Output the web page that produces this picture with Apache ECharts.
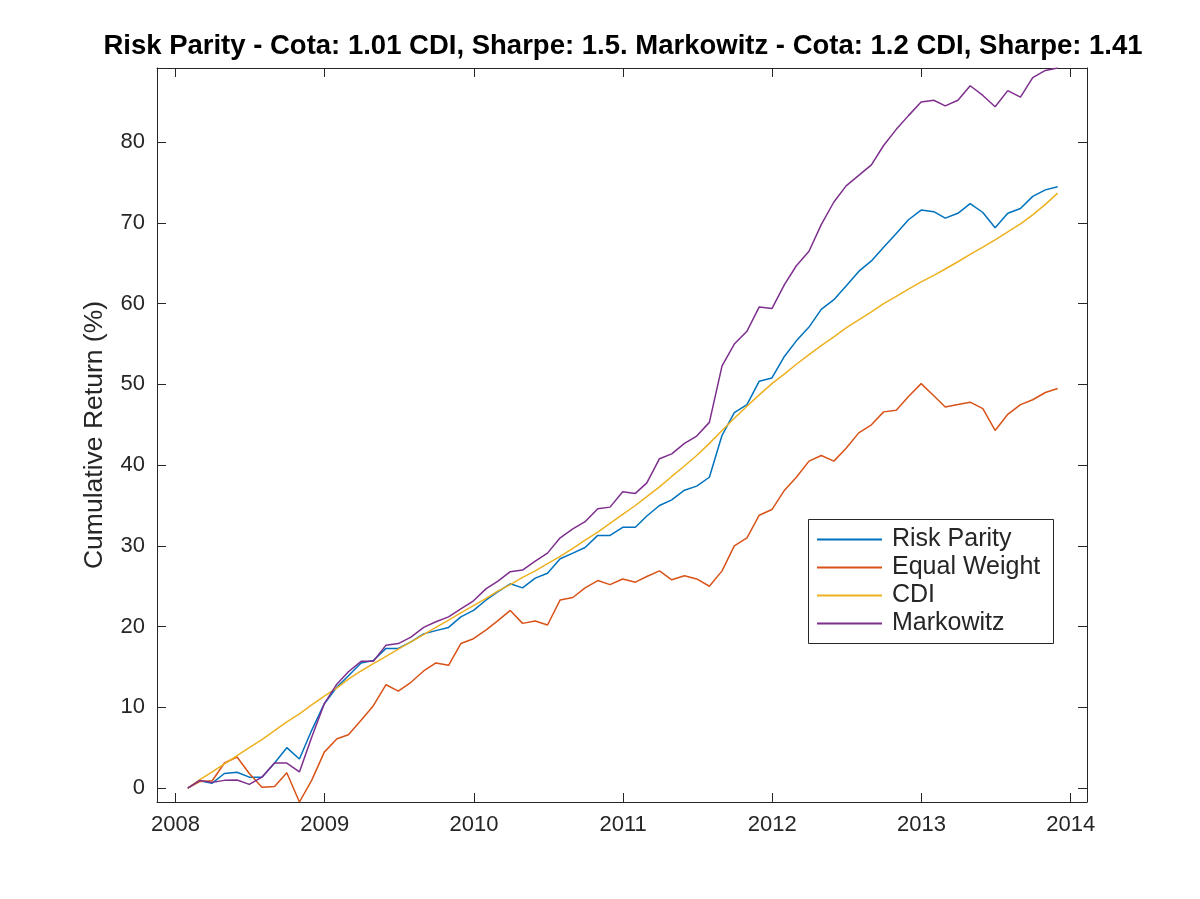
<!DOCTYPE html>
<html>
<head>
<meta charset="utf-8">
<script src="https://cdn.jsdelivr.net/npm/echarts@6/dist/echarts.min.js"></script>
<style>
html,body{margin:0;padding:0;background:#fff;}
#chart{width:1200px;height:899px;}
</style>
</head>
<body>
<div id="chart"></div>
<script>
// Monthly observations (month-end), Jan 2008 .. Nov 2013
const months = [
 '2008-01','2008-02','2008-03','2008-04','2008-05','2008-06','2008-07','2008-08','2008-09','2008-10','2008-11','2008-12',
 '2009-01','2009-02','2009-03','2009-04','2009-05','2009-06','2009-07','2009-08','2009-09','2009-10','2009-11','2009-12',
 '2010-01','2010-02','2010-03','2010-04','2010-05','2010-06','2010-07','2010-08','2010-09','2010-10','2010-11','2010-12',
 '2011-01','2011-02','2011-03','2011-04','2011-05','2011-06','2011-07','2011-08','2011-09','2011-10','2011-11','2011-12',
 '2012-01','2012-02','2012-03','2012-04','2012-05','2012-06','2012-07','2012-08','2012-09','2012-10','2012-11','2012-12',
 '2013-01','2013-02','2013-03','2013-04','2013-05','2013-06','2013-07','2013-08','2013-09','2013-10','2013-11'
];

const riskParity = [0,0.9,0.6,1.8,1.95,1.35,1.35,3.1,5.0,3.6,
 7.15,10.45,12.5,13.9,15.5,15.8,17.3,17.3,18.1,19.1,
 19.5,19.9,21.2,22.0,23.3,24.3,25.3,24.8,26.0,26.6,
 28.4,29.1,29.8,31.3,31.3,32.3,32.3,33.7,35.0,35.7,
 36.9,37.4,38.5,43.7,46.5,47.5,50.4,50.8,53.5,55.4,
 57.1,59.3,60.5,62.2,64.0,65.3,67.0,68.7,70.4,71.6,
 71.4,70.6,71.2,72.4,71.3,69.4,71.2,71.8,73.3,74.1,74.5];

const equalWeight = [0,0.8,0.9,3.1,3.85,1.8,0.1,0.2,1.9,-1.73,
 0.95,4.45,6.1,6.6,8.4,10.2,12.8,12.0,13.1,14.5,
 15.5,15.2,17.9,18.5,19.6,20.7,22.0,20.4,20.7,20.2,
 23.3,23.6,24.8,25.7,25.2,25.9,25.5,26.2,26.9,25.8,
 26.3,25.9,25.0,26.9,30.0,31.0,33.8,34.5,36.9,38.5,
 40.5,41.2,40.5,42.1,44.0,45.0,46.6,46.8,48.5,50.1,
 48.6,47.2,47.5,47.8,47.0,44.3,46.3,47.5,48.1,49.0,49.5];

const cdi = [0,1.0,2.0,3.0,4.0,5.0,6.0,7.1,8.2,9.2,
 10.3,11.4,12.4,13.5,14.5,15.4,16.3,17.2,18.1,19.0,
 19.9,20.8,21.7,22.6,23.5,24.4,25.2,26.1,26.9,27.8,
 28.7,29.7,30.7,31.7,32.8,33.9,35.0,36.1,37.3,38.6,
 39.9,41.2,42.7,44.3,45.8,47.3,48.7,50.1,51.3,52.5,
 53.7,54.8,55.9,57.0,58.0,59.0,60.0,60.9,61.8,62.7,
 63.5,64.3,65.2,66.1,67.0,67.9,68.9,69.9,71.0,72.3,73.7];

const markowitz = [0,0.95,0.7,0.95,1.0,0.45,1.35,3.1,3.1,2.0,
 6.3,10.45,12.9,14.4,15.7,15.7,17.7,17.9,18.7,19.9,
 20.6,21.2,22.2,23.2,24.7,25.6,26.8,27.0,28.1,29.1,
 31.0,32.1,33.0,34.6,34.8,36.7,36.5,37.8,40.8,41.4,
 42.7,43.6,45.3,52.3,55.0,56.6,59.6,59.4,62.4,64.7,
 66.5,69.8,72.6,74.6,75.9,77.2,79.6,81.6,83.3,85.0,
 85.2,84.5,85.2,87.0,85.8,84.4,86.4,85.6,88.0,88.9,89.2];

const seriesNames = ['Risk Parity','Equal Weight','CDI','Markowitz'];
const xTickYears = [2008,2009,2010,2011,2012,2013,2014];
const yTicks = [0,10,20,30,40,50,60,70,80];
const titleText = 'Risk Parity - Cota: 1.01 CDI, Sharpe: 1.5. Markowitz - Cota: 1.2 CDI, Sharpe: 1.41';
const yLabel = 'Cumulative Return (%)';

const colors = ['#0072BD','#D95319','#EDB120','#7E2F8E'];
const FONT = '"Liberation Sans", Arial, Helvetica, sans-serif';
const AX = '#262626';

// month-end date -> decimal year
const monthEndYear = s => {
  const [y, m] = s.split('-').map(Number);
  const d = Date.UTC(y, m, 0), y0 = Date.UTC(y, 0, 1), y1 = Date.UTC(y + 1, 0, 1);
  return y + (d - y0) / (y1 - y0);
};
const xs = months.map(monthEndYear);
const toPairs = arr => arr.map((v, i) => [xs[i], v]);

const allVals = [].concat(riskParity, equalWeight, cdi, markowitz);
const yMin = Math.min(...allVals);
const yMax = Math.max(...allVals);
const xMin = 2007.876;
const xMax = 2014.109;

const baseX = (pos, showLabel) => ({
  type: 'value', position: pos, min: xMin, max: xMax,
  axisLine: { show: true, onZero: false, lineStyle: { color: AX, width: 1 } },
  axisTick: { show: true, inside: true, length: 9, customValues: xTickYears, lineStyle: { color: AX, width: 1 } },
  axisLabel: { show: showLabel, customValues: xTickYears, formatter: v => String(Math.round(v)),
    fontSize: 22, color: AX, fontFamily: FONT, margin: 12 },
  splitLine: { show: false }
});
const baseY = (pos, showLabel) => ({
  type: 'value', position: pos, min: yMin, max: yMax,
  axisLine: { show: true, onZero: false, lineStyle: { color: AX, width: 1 } },
  axisTick: { show: true, inside: true, length: 9, customValues: yTicks, lineStyle: { color: AX, width: 1 } },
  axisLabel: { show: showLabel, customValues: yTicks, formatter: v => String(Math.round(v)),
    fontSize: 22, color: AX, fontFamily: FONT, margin: 12 },
  splitLine: { show: false }
});

const yMain = baseY('left', true);
yMain.name = yLabel;
yMain.nameLocation = 'middle';
yMain.nameRotate = 90;
yMain.nameGap = 49;
yMain.nameTextStyle = { fontSize: 26.5, color: AX, fontFamily: FONT };

const chart = echarts.init(document.getElementById('chart'), null, { renderer: 'canvas' });
chart.setOption({
  animation: false,
  backgroundColor: '#fff',
  title: {
    text: titleText, left: 618, top: 27, textAlign: 'center',
    textStyle: { fontSize: 27.5, fontWeight: 'bold', color: '#000', fontFamily: FONT }
  },
  grid: { left: 157, right: 113, top: 68, bottom: 97, containLabel: false },
  xAxis: [baseX('bottom', true), baseX('top', false)],
  yAxis: [yMain, baseY('right', false)],
  legend: {
    data: seriesNames, orient: 'vertical', left: 812, top: 522,
    icon: 'rect', itemWidth: 65, itemHeight: 2, itemGap: 3,
    textStyle: { fontSize: 25, color: AX, fontFamily: FONT, lineHeight: 24, padding: [0, 0, 0, 5] },
    z: 10
  },
  graphic: [{
    type: 'rect', left: 808, top: 519, z: 5,
    shape: { width: 245, height: 124 },
    style: { fill: '#fff', stroke: AX, lineWidth: 1 }
  }],
  series: [riskParity, equalWeight, cdi, markowitz].map((arr, k) => ({
    name: seriesNames[k], type: 'line', data: toPairs(arr),
    xAxisIndex: 0, yAxisIndex: 0,
    showSymbol: false, symbol: 'none',
    lineStyle: { width: 1.5, color: colors[k] }, itemStyle: { color: colors[k] }
  }))
});
</script>
</body>
</html>
